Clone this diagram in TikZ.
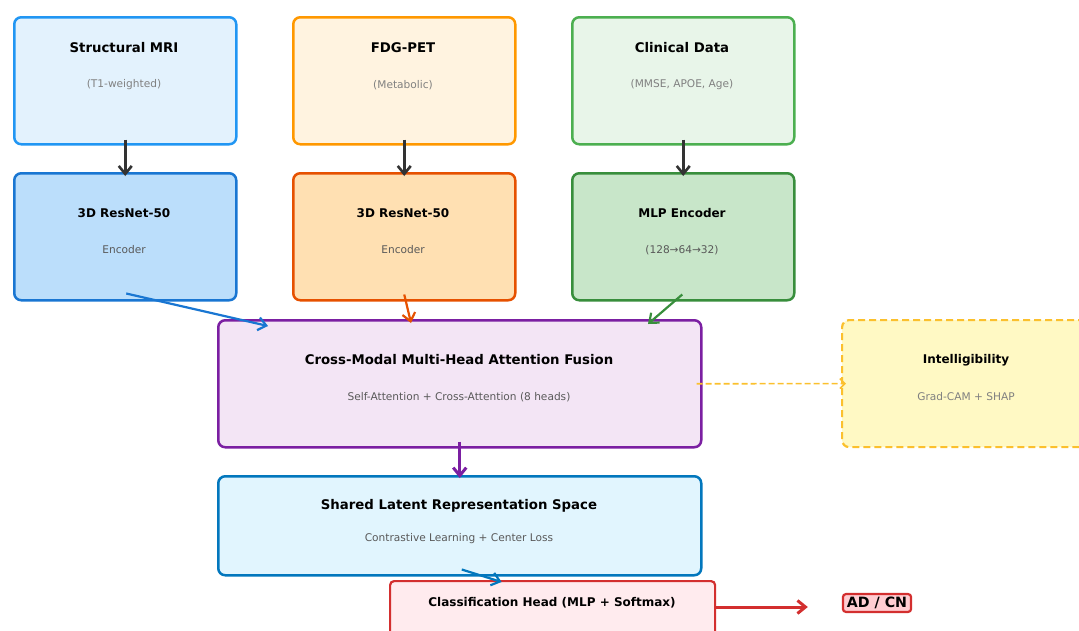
\documentclass[tikz,border=0pt]{standalone}
\usepackage{fontspec}
\setmainfont{DejaVu Sans}
\usetikzlibrary{arrows.meta,calc}
\definecolor{mriF}{HTML}{E3F2FD}\definecolor{mriE}{HTML}{2196F3}
\definecolor{rmriF}{HTML}{BBDEFB}\definecolor{rmriE}{HTML}{1976D2}
\definecolor{petF}{HTML}{FFF3E0}\definecolor{petE}{HTML}{FF9800}
\definecolor{rpetF}{HTML}{FFE0B2}\definecolor{rpetE}{HTML}{E65100}
\definecolor{cliF}{HTML}{E8F5E9}\definecolor{cliE}{HTML}{4CAF50}
\definecolor{mlpF}{HTML}{C8E6C9}\definecolor{mlpE}{HTML}{388E3C}
\definecolor{fusF}{HTML}{F3E5F5}\definecolor{fusE}{HTML}{7B1FA2}
\definecolor{shF}{HTML}{E1F5FE}\definecolor{shE}{HTML}{0277BD}
\definecolor{clsF}{HTML}{FFEBEE}\definecolor{clsE}{HTML}{D32F2F}
\definecolor{intF}{HTML}{FFF9C4}\definecolor{intE}{HTML}{FBC02D}
\definecolor{adF}{HTML}{FFCDD2}\definecolor{adE}{HTML}{D32F2F}
\definecolor{darkA}{HTML}{333333}
\begin{document}
\begin{tikzpicture}[x=1pt,y=-1pt,
  box/.style={draw, rounded corners=7pt, line width=2.5pt, anchor=north west, inner sep=0pt},
  ttl/.style={font=\fontsize{13.3}{15}\selectfont\bfseries, inner sep=0pt},
  ttls/.style={font=\fontsize{12}{14}\selectfont\bfseries, inner sep=0pt},
  subt/.style={font=\fontsize{10.6}{12}\selectfont, inner sep=0pt, text=black!50},
  subd/.style={font=\fontsize{10.6}{12}\selectfont, inner sep=0pt, text=black!65},
  barb/.style={-{Straight Barb[length=8pt,width=13pt]}},
  darr/.style={barb, draw=darkA, line width=2.6pt},
]
\useasboundingbox (0,0) rectangle (1079,630);
\clip (0,0) rectangle (1079,630);

% row 1
\node[box, draw=mriE, fill=mriF, minimum width=222pt, minimum height=127pt] (mri) at (13,16) {};
\node[box, draw=petE, fill=petF, minimum width=222pt, minimum height=127pt] (pet) at (292,16) {};
\node[box, draw=cliE, fill=cliF, minimum width=222pt, minimum height=127pt] (cli) at (571,16) {};
\node[ttl] (mriT) at (124,48) {Structural MRI};
\node[subt] (mriS) at (124,85) {(T1-weighted)};
\node[ttl] (petT) at (403,48) {FDG-PET};
\node[subt] (petS) at (403,85) {(Metabolic)};
\node[ttl] (cliT) at (682,48) {Clinical Data};
\node[subt] (cliS) at (682,85) {(MMSE, APOE, Age)};

% row 2
\node[box, draw=rmriE, fill=rmriF, minimum width=222pt, minimum height=127pt] (rmri) at (13,172) {};
\node[box, draw=rpetE, fill=rpetF, minimum width=222pt, minimum height=127pt] (rpet) at (292,172) {};
\node[box, draw=mlpE, fill=mlpF, minimum width=222pt, minimum height=127pt] (mlp) at (571,172) {};
\node[ttls] (rmriT) at (124,213) {3D ResNet-50};
\node[subd] (rmriS) at (124,250) {Encoder};
\node[ttls] (rpetT) at (403,213) {3D ResNet-50};
\node[subd] (rpetS) at (403,250) {Encoder};
\node[ttls] (mlpT) at (682,213) {MLP Encoder};
\node[subd] (mlpS) at (682,250) {(128→64→32)};

% fusion
\node[box, draw=fusE, fill=fusF, minimum width=483pt, minimum height=127pt] (fus) at (217,319) {};
\node[ttl] (fusT) at (459,360) {Cross-Modal Multi-Head Attention Fusion};
\node[subd] (fusS) at (459,397) {Self-Attention + Cross-Attention (8 heads)};

% intelligibility
\node[box, draw=intE, fill=intF, dash pattern=on 7pt off 4pt, line width=2.2pt, minimum width=250pt, minimum height=127pt] (intel) at (841,319) {};
\node[ttls] (intT) at (966,360) {Intelligibility};
\node[subt] (intS) at (966,397) {Grad-CAM + SHAP};

% shared
\node[box, draw=shE, fill=shF, minimum width=483pt, minimum height=99pt] (sh) at (217,475) {};
\node[ttl] (shT) at (459,506) {Shared Latent Representation Space};
\node[subd] (shS) at (459,539) {Contrastive Learning + Center Loss};

% classification
\node[box, draw=clsE, fill=clsF, line width=2.2pt, rounded corners=4pt, minimum width=325pt, minimum height=70pt] (cls) at (389,580) {};
\node[ttls] (clsT) at (552,603) {Classification Head (MLP + Softmax)};

% output
\node[draw=adE, fill=adF, line width=2.2pt, rounded corners=3pt, inner xsep=4pt, inner ysep=3pt,
      font=\fontsize{14.2}{16}\selectfont\bfseries] (ad) at (877,603) {AD / CN};

% arrows
\draw[darr] ($(mri.south)+(0,-6)$) -- ($(rmri.north)+(0,4)$);
\draw[darr] ($(pet.south)+(0,-6)$) -- ($(rpet.north)+(0,4)$);
\draw[darr] ($(cli.south)+(0,-6)$) -- ($(mlp.north)+(0,4)$);
\draw[barb, draw=rmriE, line width=2.2pt] ($(rmri.south)+(1,-8)$) -- ($(fus.north west)+(51,7)$);
\draw[barb, draw=rpetE, line width=2.2pt] ($(rpet.south)+(0,-7)$) -- ($(fus.north west)+(194,4)$);
\draw[barb, draw=mlpE, line width=2.2pt] ($(mlp.south)+(-1,-7)$) -- ($(fus.north west)+(431,5)$);
\draw[barb, draw=fusE, line width=3pt] ($(fus.south)+(0,-7)$) -- ($(sh.north)+(0,3)$);
\draw[-{Straight Barb[length=5pt,width=10pt]}, draw=intE, line width=1.6pt, dash pattern=on 6pt off 3pt] ($(fus.east)+(-6,0)$) -- ($(intel.west)+(5,0)$);
\draw[barb, draw=shE, line width=2.2pt] ($(sh.south)+(2,-7)$) -- ($(cls.north)+(-51,2)$);
\draw[barb, draw=clsE, line width=3pt] ($(cls.north east)+(-2,27)$) -- ($(ad.west)+(-34,4)$);
\end{tikzpicture}
\end{document}
